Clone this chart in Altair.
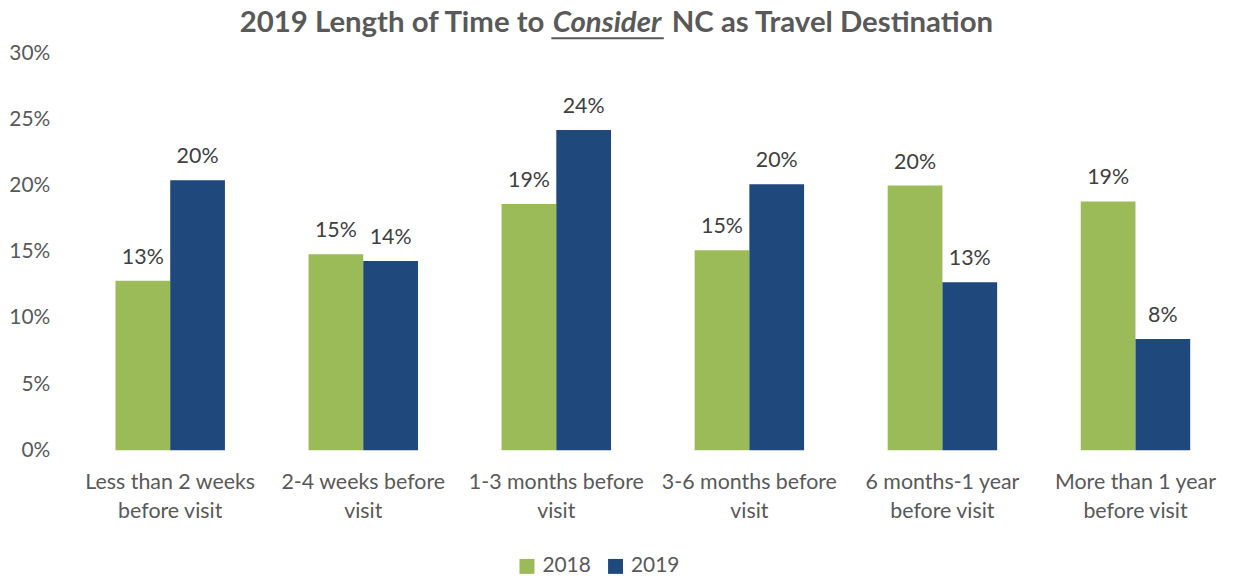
import altair as alt
import pandas as pd

categories = [
    "Less than 2 weeks before visit",
    "2-4 weeks before visit",
    "1-3 months before visit",
    "3-6 months before visit",
    "6 months-1 year before visit",
    "More than 1 year before visit",
]
category_lines = [
    ["Less than 2 weeks", "before visit"],
    ["2-4 weeks before", "visit"],
    ["1-3 months before", "visit"],
    ["3-6 months before", "visit"],
    ["6 months-1 year", "before visit"],
    ["More than 1 year", "before visit"],
]
years = ["2018", "2019"]
values_2018 = [12.8, 14.8, 18.6, 15.1, 20.0, 18.8]
values_2019 = [20.4, 14.3, 24.2, 20.1, 12.7, 8.4]
y_ticks = [0, 5, 10, 15, 20, 25, 30]
colors = ["#9BBB59", "#1F497D"]
title_parts = ["2019 Length of Time to", "Consider", "NC as Travel Destination"]

FONT = "Lato"
GREY = "#595959"

rows = []
for c, a, b in zip(categories, values_2018, values_2019):
    rows.append({"category": c, "year": years[0], "value": a})
    rows.append({"category": c, "year": years[1], "value": b})
df = pd.DataFrame(rows)

# label expression for two-line category labels
expr = "datum.label"
for c, lines in reversed(list(zip(categories, category_lines))):
    arr = "[" + ",".join("'" + s + "'" for s in lines) + "]"
    expr = f"datum.label == '{c}' ? {arr} : ({expr})"

x_enc = alt.X(
    "category:N",
    sort=categories,
    scale=alt.Scale(paddingInner=0.433, paddingOuter=0.2165),
    axis=alt.Axis(
        title=None, labelAngle=0, domain=False, ticks=False,
        labelExpr=expr, labelFont=FONT, labelFontSize=21.5, labelColor=GREY,
        labelPadding=21, labelLineHeight=30, labelBaseline="top",
        labelLimit=400, labelOverlap=False,
    ),
)
xoff = alt.XOffset("year:N", sort=years, scale=alt.Scale(paddingInner=0, paddingOuter=0))
y_enc = alt.Y(
    "value:Q",
    scale=alt.Scale(domain=[0, 30], nice=False),
    axis=alt.Axis(
        title=None, values=y_ticks, grid=False, domain=False, ticks=False,
        labelExpr="datum.value + '%'", labelFont=FONT, labelFontSize=21,
        labelColor=GREY, labelPadding=24,
    ),
)
color_enc = alt.Color(
    "year:N",
    sort=years,
    scale=alt.Scale(domain=years, range=colors),
    legend=alt.Legend(
        title=None, orient="none", legendX=445, legendY=505, direction="horizontal",
        symbolType="square", symbolSize=225, symbolStrokeWidth=0,
        labelFont=FONT, labelFontSize=21, labelColor=GREY, labelOffset=5,
        columnPadding=14, padding=0,
    ),
)

base = alt.Chart(df)
bars = base.mark_bar().encode(x=x_enc, xOffset=xoff, y=y_enc, color=color_enc)
labels = base.transform_calculate(
    lab="format(datum.value / 100, '.0%')"
).mark_text(
    font=FONT, fontSize=21.5, color="#404040", baseline="alphabetic", dy=-17
).encode(x=x_enc, xOffset=xoff, y=y_enc, text="lab:N")

TS = 29.5
tdf = pd.DataFrame({"t": title_parts})
t1 = alt.Chart(tdf).transform_filter(alt.datum.t == title_parts[0]).mark_text(
    font=FONT, fontSize=TS, fontWeight="bold", color=GREY, align="right", baseline="alphabetic"
).encode(x=alt.value(473), y=alt.value(-21), text="t:N")
t2 = alt.Chart(tdf).transform_filter(alt.datum.t == title_parts[1]).mark_text(
    font=FONT, fontSize=TS, fontWeight="bold", fontStyle="italic", color=GREY,
    align="center", baseline="alphabetic"
).encode(x=alt.value(536), y=alt.value(-21), text="t:N")
t3 = alt.Chart(tdf).transform_filter(alt.datum.t == title_parts[2]).mark_text(
    font=FONT, fontSize=TS, fontWeight="bold", color=GREY, align="left", baseline="alphabetic"
).encode(x=alt.value(601), y=alt.value(-21), text="t:N")
underline = alt.Chart(tdf).transform_filter(alt.datum.t == title_parts[1]).mark_rule(
    color=GREY, strokeWidth=2
).encode(x=alt.value(480), x2=alt.value(593), y=alt.value(-15))

chart = alt.layer(bars, labels, t1, t2, t3, underline).properties(
    width=1164, height=399,
    autosize=alt.AutoSizeParams(type="none"),
    padding={"left": 66, "top": 44, "right": 0, "bottom": 125},
).configure(background="white").configure_view(stroke=None)

chart.save("out.html", embed_options={"renderer": "svg", "actions": False})
